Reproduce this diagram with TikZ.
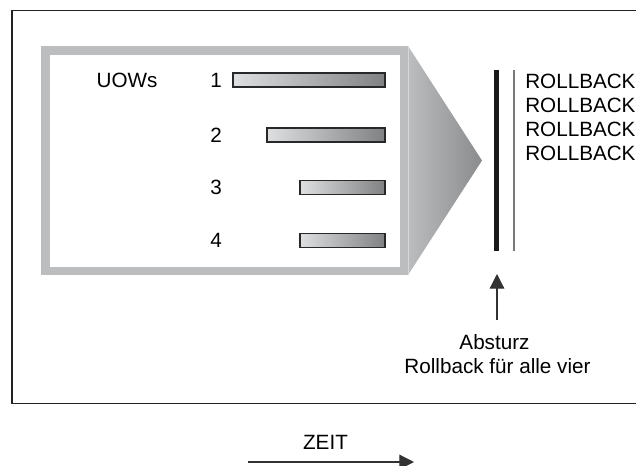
\documentclass[tikz,border=0pt]{standalone}
\usepackage{fontspec}
\setmainfont{Liberation Sans}
\usetikzlibrary{arrows.meta}

\definecolor{framegray}{RGB}{188,189,191}
\definecolor{tipgray}{RGB}{138,139,141}
\definecolor{barlight}{RGB}{222,223,224}
\definecolor{bardark}{RGB}{128,129,131}

\tikzset{
  txt/.style={inner sep=0.75pt, font=\fontsize{15.5}{18.5}\selectfont},
  uowbar/.style={draw={rgb,255:red,40;green,40;blue,40}, line width=0.9pt, left color=barlight, right color=bardark},
  uparrow/.style={draw={rgb,255:red,50;green,50;blue,50}, line width=0.9pt, -{Triangle[length=11pt,width=11pt]}},
}

\begin{document}
\begin{tikzpicture}[x=0.75pt,y=0.75pt,yscale=-1,xscale=1]
\useasboundingbox (0,0) rectangle (636,465);

%Outer frame, open to the right
\draw [color={rgb, 255:red, 35; green, 35; blue, 35 }, line width=1.1pt] (636,10.5) -- (12,10.5) -- (12,403.3) -- (636,403.3) ;

%Wedge
\shade [left color=framegray, right color=tipgray] (408,46) -- (482,160.5) -- (408,275) -- cycle ;
%Gray frame
\draw [color=framegray, line width=6.4pt] (45.3,50.3) rectangle (404,271) ;
\draw [color={rgb, 255:red, 215; green, 216; blue, 218 }, line width=0.6pt] (408,46) -- (408,275) ;

%Bars
\draw [uowbar] (233,73) rectangle (385,87) ;
\draw [uowbar] (267,128) rectangle (385,142) ;
\draw [uowbar] (300,180.5) rectangle (385,194.5) ;
\draw [uowbar] (300,233.5) rectangle (385,247.5) ;

% Text Node
\node [txt] (uows) at (127,80) {UOWs};
% Text Node
\node [txt] (n1) at (216,80) {1};
% Text Node
\node [txt] (n2) at (216,135) {2};
% Text Node
\node [txt] (n3) at (216,187.5) {3};
% Text Node
\node [txt] (n4) at (216,240.5) {4};

%Crash line
\draw [color={rgb, 255:red, 25; green, 25; blue, 25 }, line width=3.75pt] (496,70) -- (496,251) ;
\draw [color={rgb, 255:red, 120; green, 120; blue, 120 }, line width=1.1pt] (514,70) -- (514,251) ;

% Text Node
\node [txt, anchor=west] (rb1) at (524,81) {ROLLBACK};
% Text Node
\node [txt, anchor=west] (rb2) at (524,105) {ROLLBACK};
% Text Node
\node [txt, anchor=west] (rb3) at (524,129) {ROLLBACK};
% Text Node
\node [txt, anchor=west] (rb4) at (524,153) {ROLLBACK};

% Text Node
\node [txt] (absturz) at (494.5,342) {Absturz};
% Text Node
\node [txt] (rball) at (497.5,366) {Rollback für alle vier};
\coordinate (crash) at (497,274) ;
\draw [uparrow] (497,320) -- (crash) ;

% Text Node
\node [txt] (zeit) at (325.5,442) {ZEIT};
\coordinate (tstart) at (248,462) ;
\coordinate (tend) at (414,462) ;
\draw [uparrow] (tstart) -- (tend) ;

\end{tikzpicture}
\end{document}
